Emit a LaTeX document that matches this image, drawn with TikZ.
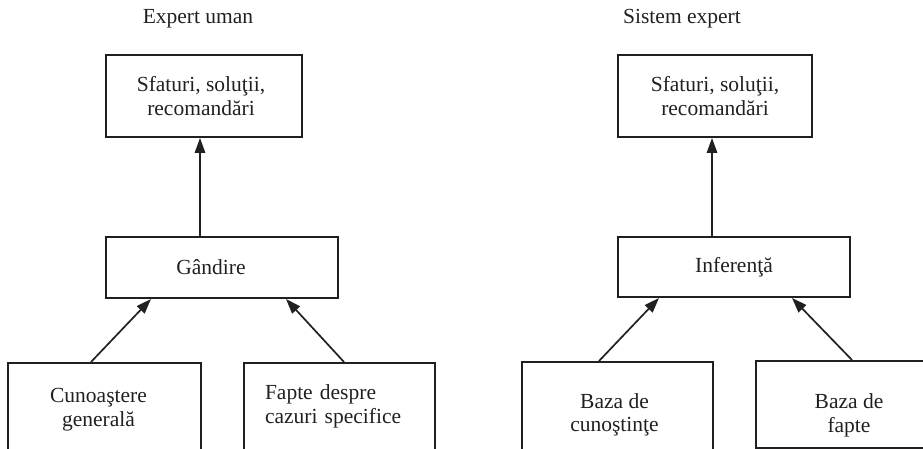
\documentclass[tikz,border=0pt]{standalone}
\usepackage{fontspec}
\setmainfont{Liberation Serif}
\usetikzlibrary{arrows.meta,calc}
\definecolor{ink}{RGB}{35,31,32}
\begin{document}
\begin{tikzpicture}[x=1pt,y=-1pt,
  txt/.style={font=\fontsize{21.5}{23.5}\selectfont,text=ink,align=center,inner sep=0pt},
  box/.style={txt,draw=ink,line width=2pt,rectangle},
  title/.style={font=\fontsize{21.5}{23.5}\selectfont,text=ink,anchor=base,inner sep=0pt},
  arr/.style={draw=ink,line width=1.7pt,-{Triangle[length=15pt,width=10.5pt]}}]
\clip (0,0) rectangle (923,449);

% ---- left column: human expert ----
\node[title] (th) at (198,24) {Expert uman};
\node[box,minimum width=196pt,minimum height=82pt] (lt) at (204,96) {};
\node[txt] (lttext) at ($(lt.center)+(-3,0)$) {Sfaturi, soluţii,\\recomandări};
\node[box,minimum width=232pt,minimum height=61pt] (lg) at (222,267.5) {};
\node[txt] (lgtext) at ($(lg.center)+(-11,0)$) {Gândire};
\node[box,minimum width=193pt,minimum height=93pt] (lk) at (104.5,409.5) {};
\node[txt] (lktext) at ($(lk.center)+(-6,0)$) {Cunoaştere\\generală};
\node[box,minimum width=191pt,minimum height=87pt,align=left,text width=149pt] (lf) at (339.5,406.5) {Fapte despre\\cazuri specifice};

\coordinate (lv) at ($(lt.south)+(-4,0)$);
\draw[arr] (lv |- lg.north) -- (lv);
\draw[arr] ($(lk.north west)+(84,0)$) -- ($(lg.south west)+(46,0)$);
\draw[arr] ($(lf.north west)+(101,0)$) -- ($(lg.south west)+(181,0)$);

% ---- right column: expert system ----
\node[title] (ts) at (682,24) {Sistem expert};
\node[box,minimum width=194pt,minimum height=82pt] (rt) at (715,96) {Sfaturi, soluţii,\\recomandări};
\node[box,minimum width=232pt,minimum height=60pt] (rg) at (734,267) {Inferenţă};
\node[box,minimum width=191pt,minimum height=106pt] (rk) at (617.5,415) {};
\node[txt] (rktext) at ($(rk.center)+(-3,0)$) {Baza de\\cunoştinţe};
\node[box,minimum width=186pt,minimum height=87pt] (rf) at (849,404.5) {};
\node[txt] (rftext) at ($(rf.center)+(0,11)$) {Baza de\\fapte};

\coordinate (rv) at ($(rt.south)+(-3,0)$);
\draw[arr] (rv |- rg.north) -- (rv);
\draw[arr] ($(rk.north west)+(78,0)$) -- ($(rg.south west)+(42,0)$);
\draw[arr] ($(rf.north west)+(97,0)$) -- ($(rg.south west)+(175,0)$);
\end{tikzpicture}
\end{document}
